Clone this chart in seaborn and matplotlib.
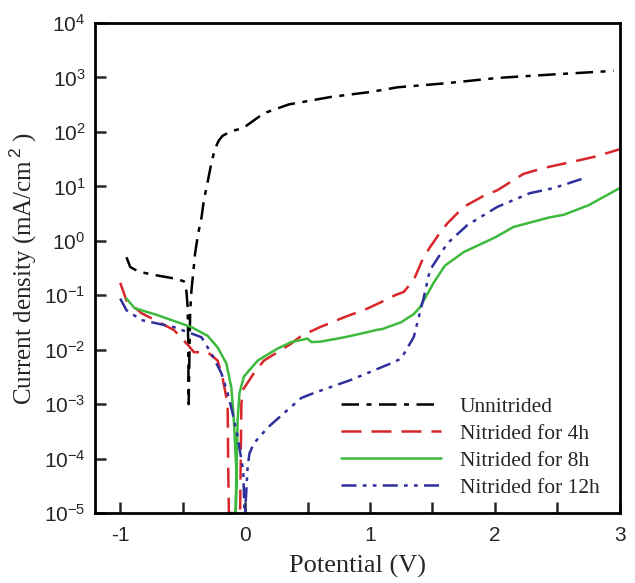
import numpy as np
import pandas as pd
import matplotlib
matplotlib.use("Agg")
import matplotlib.pyplot as plt
import matplotlib.ticker as mticker
import seaborn as sns

# Potential (V) / current density (mA/cm2)
v_un = [-0.95, -0.92, -0.85, -0.7, -0.55, -0.49, -0.47, -0.46, -0.455, -0.452,
        -0.448, -0.445, -0.44, -0.43, -0.40, -0.375, -0.35, -0.33, -0.30, -0.27,
        -0.24, -0.21, -0.18, -0.14, -0.1, -0.05, 0.0, 0.15, 0.35, 0.69, 1.0,
        1.22, 1.6, 2.02, 2.5, 2.95]
i_un = [0.5, 0.33, 0.27, 0.23, 0.2, 0.18, 0.12, 0.06, 0.01, 0.001,
        0.004, 0.01, 0.05, 0.12, 0.6, 1.4, 2.6, 5.6, 12, 27,
        50, 70, 85, 95, 105, 112, 125, 220, 320, 440, 540,
        660, 780, 980, 1150, 1320]

v_4h = [-1.0, -0.95, -0.83, -0.57, -0.455, -0.41, -0.3, -0.22, -0.18, -0.14,
        -0.135, -0.13, -0.04, -0.035, -0.03, -0.02, 0.07, 0.15, 0.26, 0.37,
        0.45, 0.6, 0.8, 0.98, 1.085, 1.2, 1.27, 1.35, 1.42, 1.48, 1.55, 1.62,
        1.75, 1.9, 2.02, 2.23, 2.4, 2.58, 2.8, 3.0]
i_4h = [0.17, 0.08, 0.047, 0.023, 0.012, 0.009, 0.009, 0.0063, 0.003, 0.001,
        6e-5, 1e-5, 1e-5, 1e-4, 1e-3, 0.0018, 0.0037, 0.0063, 0.009, 0.013,
        0.018, 0.026, 0.04, 0.057, 0.074, 0.1, 0.115, 0.19, 0.45, 0.76, 1.3, 2.1,
        4.2, 6.5, 8.5, 17, 22, 27, 35, 48]

v_8h = [-0.95, -0.885, -0.7, -0.43, -0.3, -0.22, -0.15, -0.11, -0.09, -0.07,
        -0.075, -0.06, -0.045, -0.01, 0.1, 0.26, 0.37, 0.5, 0.53, 0.6, 0.8,
        0.98, 1.05, 1.1, 1.25, 1.35, 1.4, 1.51, 1.6, 1.75, 2.0, 2.15, 2.44,
        2.55, 2.75, 3.0]
i_8h = [0.087, 0.058, 0.043, 0.026, 0.018, 0.011, 0.0056, 0.002, 5e-4, 6e-5,
        1e-5, 5e-4, 0.0016, 0.0032, 0.0063, 0.0105, 0.0138, 0.016, 0.0138, 0.014, 0.017,
        0.021, 0.023, 0.024, 0.032, 0.045, 0.06, 0.17, 0.35, 0.62, 1.15, 1.8, 2.7,
        3.0, 4.5, 9.3]

v_12h = [-1.0, -0.95, -0.83, -0.57, -0.35, -0.27, -0.19, -0.14, -0.1, -0.06,
         -0.015, -0.005, 0.0, 0.02, 0.035, 0.07, 0.18, 0.31, 0.45, 0.55, 0.85,
         1.19, 1.25, 1.35, 1.43, 1.48, 1.62, 1.78, 2.02, 2.28, 2.47, 2.71]
i_12h = [0.087, 0.053, 0.035, 0.026, 0.017, 0.0085, 0.0037, 0.0016, 6.8e-4, 2.5e-4,
         6e-5, 1e-5, 1e-5, 7e-5, 1.25e-4, 1.9e-4, 3.7e-4, 6.8e-4, 1.3e-3, 1.6e-3, 2.8e-3,
         5.9e-3, 6.9e-3, 0.017, 0.09, 0.29, 0.9, 1.95, 4.2, 7.5, 9.3, 14]

labels = ["Unnitrided", "Nitrided for 4h", "Nitrided for 8h", "Nitrided for 12h"]
colors = ["black", "#d8262a", "#3dba3d", "#2f2f9e"]
styles = [(0, (7, 3, 2, 3)), (0, (8, 4)), "-", (0, (6, 2.5, 1.5, 2.5, 1.5, 2.5))]

sns.set_style("white")
plt.rcParams["mathtext.fontset"] = "custom"
plt.rcParams["mathtext.rm"] = "Liberation Sans"
plt.rcParams["mathtext.it"] = "Liberation Sans"

fig = plt.figure(figsize=(6.35, 5.83), dpi=100)
ax = fig.add_axes([0.150, 0.120, 0.826, 0.8405])

series = [(v_un, i_un), (v_4h, i_4h), (v_8h, i_8h), (v_12h, i_12h)]
for (v, i), lab, c, ls in zip(series, labels, colors, styles):
    df = pd.DataFrame({"V": v, "I": i})
    sns.lineplot(data=df, x="V", y="I", sort=False, estimator=None, ax=ax,
                 color=c, linestyle=ls, linewidth=1.8, label=lab)

ax.set_yscale("log")
ax.set_ylim(1e-5, 1e4)
ax.set_xlim(-1.2, 3)
ax.yaxis.set_major_locator(mticker.LogLocator(base=10, numticks=12))
ax.yaxis.set_minor_locator(mticker.NullLocator())
ax.yaxis.set_major_formatter(mticker.FuncFormatter(
    lambda y, p: r"$10^{%d}$" % int(round(np.log10(y)))))
ax.xaxis.set_major_locator(mticker.MultipleLocator(1))
ax.xaxis.set_minor_locator(mticker.MultipleLocator(0.5))
ax.xaxis.set_major_formatter(mticker.FuncFormatter(lambda x, p: "%d" % x))

for s in ax.spines.values():
    s.set_linewidth(2)
    s.set_color("black")
ax.tick_params(which="both", direction="in", length=8, width=1.8,
               bottom=True, left=True, top=False, right=False)
ax.tick_params(axis="x", which="major", pad=9)
ax.tick_params(axis="y", which="major", pad=7)
ax.tick_params(labelsize=15)
for t in ax.get_xticklabels() + ax.get_yticklabels():
    t.set_family("Liberation Sans")

ax.set_xlabel("Potential (V)", family="Liberation Serif", fontsize=19)
ax.xaxis.set_label_coords(0.5, -0.086)
ax.set_ylabel("Current density (mA/cm$^{\\,2}$ )", family="Liberation Serif",
              fontsize=18)
ax.yaxis.set_label_coords(-0.108, 0.5)

leg = ax.legend(loc="lower right", bbox_to_anchor=(0.998, -0.008), frameon=False,
                prop={"family": "Liberation Serif", "size": 15.5},
                handlelength=4.65, handletextpad=0.85, labelspacing=0.32)

fig.savefig("out.png", dpi=100)
